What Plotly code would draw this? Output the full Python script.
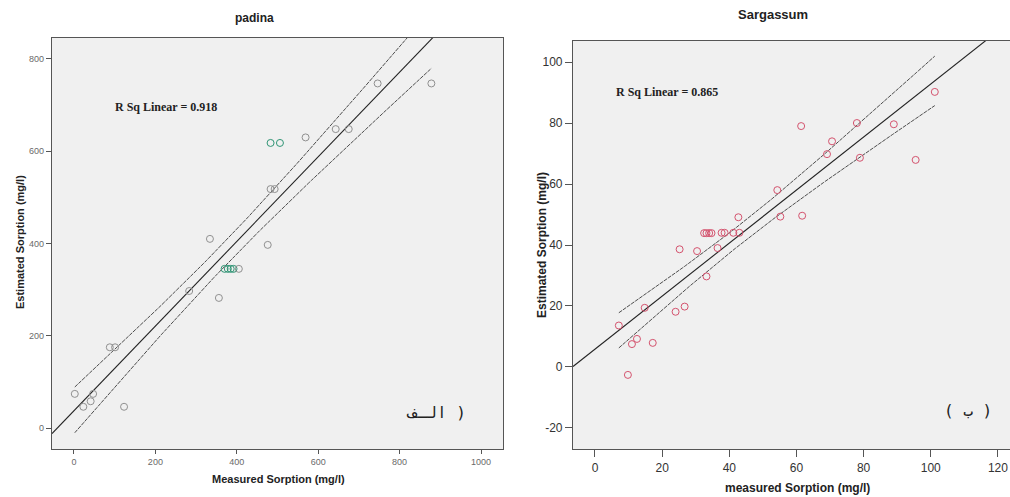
import numpy as np
import plotly.graph_objects as go

# ---------------- data: padina ----------------
padina_measured = [746, 878, 643, 675, 569, 483, 506, 483, 493, 334, 476,
                   370, 378, 385, 392, 405, 283, 356, 88, 101, 2, 23, 41, 47, 123]
padina_estimated = [747, 747, 648, 648, 630, 618, 618, 518, 518, 410, 397,
                    345, 345, 345, 345, 345, 297, 282, 175, 175, 74, 46, 58, 74, 46]
padina_highlight = [0, 0, 0, 0, 0, 1, 1, 0, 0, 0, 0,
                    1, 1, 1, 1, 0, 0, 0, 0, 0, 0, 0, 0, 0, 0]
padina_ticks = [0, 200, 400, 600, 800, 1000]
padina_yticks = [0, 200, 400, 600, 800]
padina_r2_label = "R Sq Linear = 0.918"

# ---------------- data: Sargassum ----------------
sarg_measured = [101.2, 78.0, 61.4, 70.6, 69.1, 89.0, 78.9, 95.5, 54.3, 55.2, 61.7, 42.7,
                 32.5, 33.2, 34.0, 34.7, 37.7, 38.6, 41.2, 43.0, 25.2, 30.4, 36.5, 33.2,
                 14.8, 24.0, 26.7, 7.1, 11.0, 12.5, 17.2, 9.8]
sarg_estimated = [90.2, 80.0, 79.0, 74.0, 69.8, 79.6, 68.6, 67.9, 58.0, 49.3, 49.6, 49.1,
                  43.9, 43.9, 43.9, 43.9, 44.0, 44.0, 44.0, 44.0, 38.6, 38.0, 39.0, 29.7,
                  19.4, 18.1, 19.8, 13.6, 7.5, 9.2, 7.9, -2.6]
sarg_xticks = [0, 20, 40, 60, 80, 100, 120]
sarg_yticks = [-20, 0, 20, 40, 60, 80, 100]
sarg_ytick_text = ["-20", "0", "20", "40", "60", "80", "100"]
sarg_r2_label = "R Sq Linear = 0.865"

T_CRIT = 2.05  # ~95% two-sided t value for n-2 ~ 25-30

PADINA_XR = [-54, 1054]
PADINA_YR = [-45.5, 845.5]
SARG_XR = [-6.55, 123.6]
SARG_YR = [-26.9, 106.9]


def fit_lines(x, y, xr):
    x = np.asarray(x, float)
    y = np.asarray(y, float)
    b, a = np.polyfit(x, y, 1)
    n = len(x)
    resid = y - (a + b * x)
    s = np.sqrt(np.sum(resid ** 2) / (n - 2))
    sxx = np.sum((x - x.mean()) ** 2)
    xs = np.linspace(x.min(), x.max(), 120)
    se = s * np.sqrt(1.0 / n + (xs - x.mean()) ** 2 / sxx)
    yc = a + b * xs
    xl = np.array(xr, float)
    return xl, a + b * xl, xs, yc + T_CRIT * se, yc - T_CRIT * se


fig = go.Figure()

# padina
pxl, pyl, pxs, pup, plo = fit_lines(padina_measured, padina_estimated, PADINA_XR)
for yy in (pup, plo):
    fig.add_trace(go.Scatter(x=pxs, y=yy, mode="lines", xaxis="x", yaxis="y",
                             line=dict(color="#3a3a3a", width=0.9, dash="4px,1px"),
                             showlegend=False, hoverinfo="skip"))
fig.add_trace(go.Scatter(x=pxl, y=pyl, mode="lines", xaxis="x", yaxis="y",
                         line=dict(color="#222222", width=1.1), showlegend=False))
pcol = ["#2f9474" if h else "#909090" for h in padina_highlight]
fig.add_trace(go.Scatter(x=padina_measured, y=padina_estimated, mode="markers",
                         xaxis="x", yaxis="y",
                         marker=dict(symbol="circle-open", size=7, color=pcol,
                                     line=dict(width=1)),
                         showlegend=False))

# Sargassum
sxl, syl, sxs, sup, slo = fit_lines(sarg_measured, sarg_estimated, SARG_XR)
for yy in (sup, slo):
    fig.add_trace(go.Scatter(x=sxs, y=yy, mode="lines", xaxis="x2", yaxis="y2",
                             line=dict(color="#3a3a3a", width=0.9, dash="4px,1px"),
                             showlegend=False, hoverinfo="skip"))
fig.add_trace(go.Scatter(x=sxl, y=syl, mode="lines", xaxis="x2", yaxis="y2",
                         line=dict(color="#222222", width=1.1), showlegend=False))
fig.add_trace(go.Scatter(x=sarg_measured, y=sarg_estimated, mode="markers",
                         xaxis="x2", yaxis="y2",
                         marker=dict(symbol="circle-open", size=7, color="#d4536e",
                                     line=dict(width=1)),
                         showlegend=False))

W, H = 1010, 497


def px(v):
    return v / W


def py(v):
    return 1 - v / H


axis_common = dict(showgrid=False, zeroline=False, showline=True, linecolor="#555555",
                   linewidth=1.2, ticks="outside", tickcolor="#555555")

fig.update_layout(
    width=W, height=H, autosize=False,
    margin=dict(l=0, r=0, t=0, b=0),
    paper_bgcolor="white", plot_bgcolor="#f0f0f0",
    xaxis=dict(domain=[px(52), px(503)], range=PADINA_XR, anchor="y",
               tickvals=padina_ticks, mirror=True, ticklen=4,
               tickfont=dict(family="Liberation Sans, Arial", size=9, color="#6a6a6a"),
               **axis_common),
    yaxis=dict(domain=[py(449), py(38)], range=PADINA_YR, anchor="x",
               tickvals=padina_yticks, mirror=True, ticklen=5,
               tickfont=dict(family="Liberation Sans, Arial", size=9, color="#6a6a6a"),
               **axis_common),
    xaxis2=dict(domain=[px(573), 1.0], range=SARG_XR, anchor="y2",
                tickvals=sarg_xticks, mirror=True, ticklen=7,
                tickfont=dict(family="Liberation Sans Narrow, Arial Narrow, Liberation Sans",
                              size=12, color="#333333"),
                **axis_common),
    yaxis2=dict(domain=[py(449), py(41)], range=SARG_YR, anchor="x2",
                tickvals=sarg_yticks, ticktext=sarg_ytick_text, ticklen=7,
                tickfont=dict(family="Liberation Sans Narrow, Arial Narrow, Liberation Sans",
                              size=12, color="#333333"),
                **axis_common),
)


def note(text, x, y, size, family="Liberation Sans, Arial", xanchor="center", angle=0):
    return dict(text=text, x=px(x), y=py(y), xref="paper", yref="paper",
                xanchor=xanchor, yanchor="middle", showarrow=False, textangle=angle,
                font=dict(family=family, size=size, color="#222222"))


serif = "Liberation Serif, Times New Roman"
mono = "DejaVu Sans Mono, DejaVu Sans"
ann = [
    note("<b>padina</b>", 254, 18, 12),
    note("<b>Sargassum</b>", 773, 15, 13),
    note("<b>Measured Sorption (mg/l)</b>", 278, 479, 11),
    note("<b>Estimated Sorption (mg/l)</b>", 20, 242, 11, angle=-90),
    note("<b>measured Sorption (mg/l)</b>", 797, 488, 12),
    note("<b>Estimated Sorption (mg/l)</b>", 542, 245, 12, angle=-90),
    note("<b>" + padina_r2_label + "</b>", 113, 107, 12, family=serif, xanchor="left"),
    note("<b>" + sarg_r2_label + "</b>", 614, 92, 12, family=serif, xanchor="left"),
    note("الـف )", 468, 412, 16, family=mono, xanchor="right"),
    note("( ب )", 994, 410, 16, family=mono, xanchor="right"),
]
fig.update_layout(annotations=ann)

fig.write_html("out.html", config={"displayModeBar": False},
               post_script="document.body.style.margin='0';")
